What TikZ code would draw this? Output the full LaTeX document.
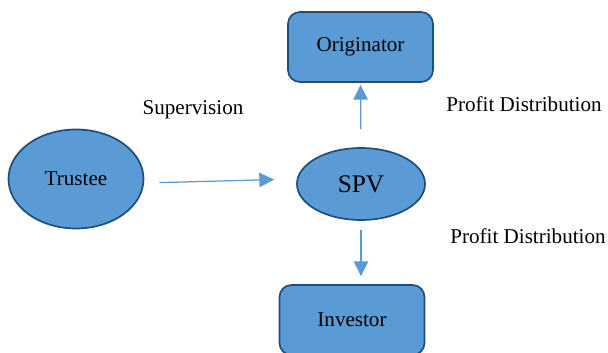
\documentclass[tikz,border=0pt]{standalone}
\usepackage{fontspec}
\setmainfont{Liberation Serif}
\usepackage{tikz}
\usetikzlibrary{arrows.meta,shapes,positioning}

\definecolor{boxfill}{HTML}{5B9BD5}
\definecolor{boxline}{HTML}{1F4E79}
\definecolor{arrowblue}{HTML}{5B9BD5}

\begin{document}
\begin{tikzpicture}[x=0.025cm, y=-0.025cm,
    party/.style={draw=boxline, fill=boxfill, line width=1.2pt, rounded corners=0.3cm,
        minimum width=3.625cm, minimum height=1.75cm, font=\fontsize{15}{18}\selectfont},
    oval/.style={ellipse, draw=boxline, fill=boxfill, line width=1.2pt, inner sep=0pt},
    flow/.style={draw=arrowblue, line width=0.9pt, -{Triangle[length=0.37cm, width=0.36cm]}},
    note/.style={font=\fontsize{15}{18}\selectfont}]
    \useasboundingbox (0,0) rectangle (608,353);

    \node[party] (orig) at (360.5,47) {Originator};
    \node[party] (inv) at (352,320) {Investor};
    \node[oval, minimum width=3.375cm, minimum height=2.475cm, font=\fontsize{15}{18}\selectfont]
        (trustee) at (76,179) {Trustee};
    \node[oval, minimum width=3.2cm, minimum height=1.8cm, font=\fontsize{18}{21}\selectfont]
        (spv) at (361,184) {SPV};

    \node[note] (super) at (193,110) {Supervision};
    \node[note] (profitup) at (524,104) {Profit Distribution};
    \node[note] (profitdown) at (528,236) {Profit Distribution};

    \draw[flow, shorten <=0.375cm, shorten >=0.55cm] ([yshift=-0.1cm]trustee.east) -- (trustee.east -| spv.west);
    \draw[flow, shorten <=0.45cm, shorten >=0.05cm] (spv.north) -- (orig.south);
    \draw[flow, shorten <=0.225cm, shorten >=0.2cm] (spv.south) -- (spv.south |- inv.north);
\end{tikzpicture}
\end{document}
